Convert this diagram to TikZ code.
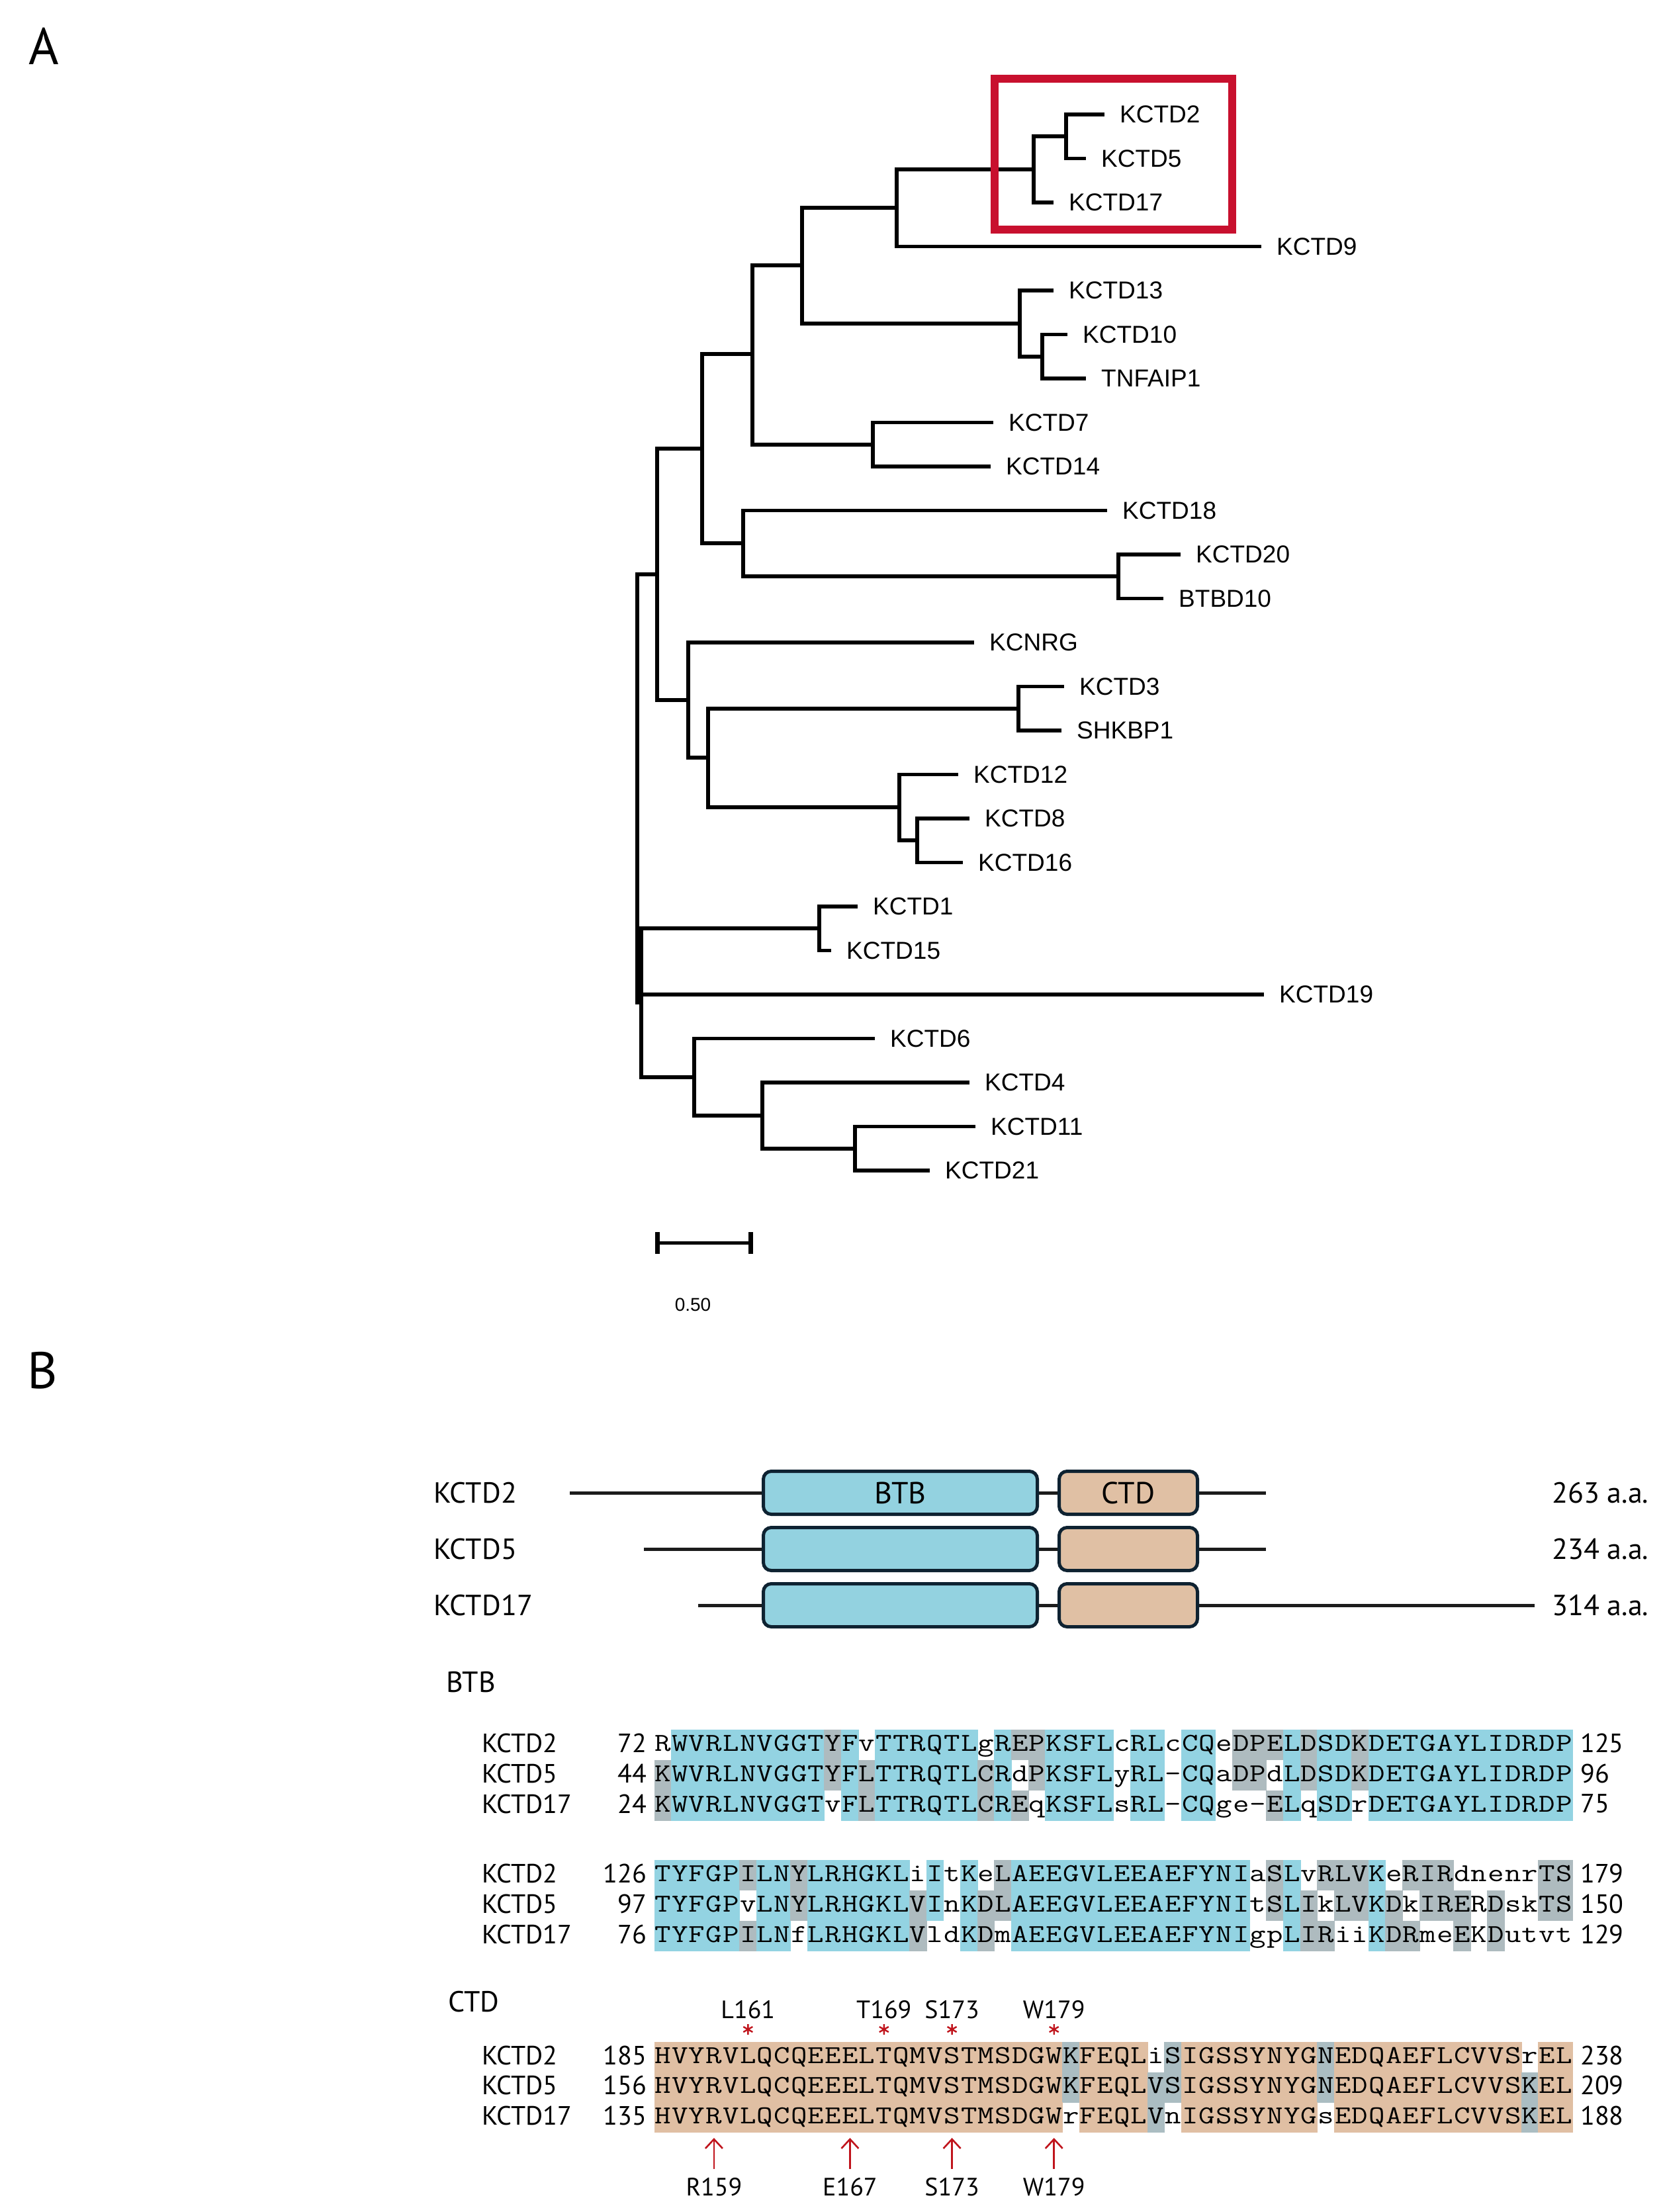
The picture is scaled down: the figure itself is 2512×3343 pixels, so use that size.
\documentclass[tikz,border=0pt]{standalone}
\usepackage{fontspec}
\usepackage{graphicx}
\usetikzlibrary{arrows.meta}
\newfontfamily\arialf{Liberation Sans}
\newfontfamily\ptsf{PT Sans}
\definecolor{shc}{HTML}{93D3E2}
\definecolor{shg}{HTML}{AEBBBF}
\definecolor{sht}{HTML}{E0BFA3}
\definecolor{shb}{HTML}{ABBDC2}
\definecolor{btbfill}{HTML}{93D2E0}
\definecolor{ctdfill}{HTML}{E0C0A4}
\definecolor{boxline}{HTML}{0E2231}
\definecolor{hlred}{HTML}{C8102E}
\definecolor{arred}{HTML}{C0141C}
\definecolor{protline}{HTML}{1C1C1C}
\newcount\seqi
\newcommand\shaderow[3]{\def\shx{#1}\def\shy{#2}\seqi=0 \shloop#3\relax}
\def\shloop#1{\ifx#1\relax\else\if#1w\else\fill[fill=sh#1] ({\shx+\the\seqi*25.69-0.5},{\shy-23}) rectangle ++(26.7,46);\fi\advance\seqi by 1 \expandafter\shloop\fi}
\newcommand\seqrow[3]{\def\sqx{#1}\def\sqy{#2}\seqi=0 \sqloop#3\relax}
\def\sqloop#1{\ifx#1\relax\else\node[aa] at ({\sqx+(\the\seqi+0.5)*25.69},{\sqy+9}) {\scalebox{1.22}[1]{#1}};\advance\seqi by 1 \expandafter\sqloop\fi}
\begin{document}
\begin{tikzpicture}[x=1pt,y=-1pt,
  tree/.style={line width=5.5pt, line cap=butt},
  leaf/.style={anchor=west, inner xsep=23pt, inner ysep=0pt, font=\arialf\fontsize{37}{40}\selectfont},
  aa/.style={anchor=base, inner sep=0pt, font=\fontsize{39}{39}\selectfont\ttfamily},
  lab/.style={inner sep=0pt, font=\ptsf\fontsize{40}{44}\selectfont},
  dlab/.style={inner sep=0pt, font=\ptsf\fontsize{44}{48}\selectfont},
  prot/.style={draw=protline, line width=5pt},
  btbbox/.style={draw=boxline, fill=btbfill, line width=5pt, rounded corners=12pt, minimum width=414pt, minimum height=65pt, inner sep=0pt, font=\ptsf\fontsize{46}{48}\selectfont},
  ctdbox/.style={draw=boxline, fill=ctdfill, line width=5pt, rounded corners=12pt, minimum width=209pt, minimum height=65pt, inner sep=0pt, font=\ptsf\fontsize{46}{48}\selectfont},
  astr/.style={draw=arred, line width=2.4pt},
  arr/.style={draw=arred, line width=2.6pt, -{Straight Barb[length=14pt,width=26pt,line width=2.6pt]}}
]
\useasboundingbox[fill=white] (0,0) rectangle (2512,3343);
% panel letters
\node[inner sep=0pt, font=\ptsf\fontsize{78}{80}\selectfont] (pA) at (66,70) {A};
\node[inner sep=0pt, font=\ptsf\fontsize{78}{80}\selectfont] (pB) at (64,2071) {B};
% ---------------- tree ----------------
\foreach \nm/\xe/\i in {KCTD2/1669/0, KCTD5/1641/1, KCTD17/1592/2, KCTD9/1906/3,
  KCTD13/1592/4, KCTD10/1613/5, TNFAIP1/1641/6, KCTD7/1501/7, KCTD14/1497/8,
  KCTD18/1673/9, KCTD20/1784/10, BTBD10/1758/11, KCNRG/1472/12, KCTD3/1608/13,
  SHKBP1/1604/14, KCTD12/1448/15, KCTD8/1465/16, KCTD16/1455/17, KCTD1/1296/18,
  KCTD15/1256/19, KCTD19/1910/20, KCTD6/1322/21, KCTD4/1465/22, KCTD11/1474/23,
  KCTD21/1405/24}
  \node[leaf] (\nm) at (\xe,{173+\i*66.5}) {\nm};
\coordinate (n25) at (1611,206);
\coordinate (nA) at (1562,256);
\coordinate (nB) at (1355,314);
\coordinate (n10T) at (1575,539);
\coordinate (n13) at (1541,489);
\coordinate (nC) at (1212,401);
\coordinate (n714) at (1319,672);
\coordinate (nD) at (1137,535);
\coordinate (n20B) at (1690,871);
\coordinate (n18) at (1123,821);
\coordinate (nE) at (1061,678);
\coordinate (n3S) at (1539,1071);
\coordinate (n816) at (1386,1270);
\coordinate (n12) at (1359,1220);
\coordinate (nH) at (1070,1145);
\coordinate (nK) at (1040,1058);
\coordinate (nF) at (993,868);
\coordinate (n115) at (1238,1403);
\coordinate (n1121) at (1292,1736);
\coordinate (n4) at (1152,1686);
\coordinate (n6) at (1049,1628);
\coordinate (nG) at (969,1515);
\coordinate (root) at (963,1191);
\draw[tree] (n25) |- (KCTD2.west) (n25) |- (KCTD5.west)
  (nA) |- (n25) (nA) |- (KCTD17.west)
  (nB) |- (nA) (nB) |- (KCTD9.west)
  (n10T) |- (KCTD10.west) (n10T) |- (TNFAIP1.west)
  (n13) |- (KCTD13.west) (n13) |- (n10T)
  (nC) |- (nB) (nC) |- (n13)
  (n714) |- (KCTD7.west) (n714) |- (KCTD14.west)
  (nD) |- (nC) (nD) |- (n714)
  (n20B) |- (KCTD20.west) (n20B) |- (BTBD10.west)
  (n18) |- (KCTD18.west) (n18) |- (n20B)
  (nE) |- (nD) (nE) |- (n18)
  (n3S) |- (KCTD3.west) (n3S) |- (SHKBP1.west)
  (n816) |- (KCTD8.west) (n816) |- (KCTD16.west)
  (n12) |- (KCTD12.west) (n12) |- (n816)
  (nH) |- (n3S) (nH) |- (n12)
  (nK) |- (KCNRG.west) (nK) |- (nH)
  (nF) |- (nE) (nF) |- (nK)
  (n115) |- (KCTD1.west) (n115) |- (KCTD15.west)
  (n1121) |- (KCTD11.west) (n1121) |- (KCTD21.west)
  (n4) |- (KCTD4.west) (n4) |- (n1121)
  (n6) |- (KCTD6.west) (n6) |- (n4)
  (nG) |- (n115) (nG) |- (KCTD19.west) (nG) |- (n6)
  (root) |- (nF) (root) |- (nG);
% highlight box
\node[draw=hlred, line width=12pt, minimum width=359pt, minimum height=228pt, inner sep=0pt] (hl) at (1682.5,233) {};
% scale bar
\coordinate (sb1) at (993,1878);
\coordinate (sb2) at (1134,1878);
\draw[line width=5pt] (sb1) -- (sb2);
\draw[line width=7pt] (sb1) ++(0,-16) -- ++(0,33) (sb2) ++(0,-16) -- ++(0,33);
\node[inner sep=0pt, font=\arialf\fontsize{28}{30}\selectfont] (sbl) at (1047,1972) {0.50};
% ---------------- domain diagrams ----------------
\coordinate (l2s) at (861,2256); \coordinate (l2e) at (1913,2256);
\coordinate (l5s) at (973,2341); \coordinate (l5e) at (1913,2341);
\coordinate (l17s) at (1055,2426); \coordinate (l17e) at (2319,2426);
\draw[prot] (l2s) -- (l2e);
\draw[prot] (l5s) -- (l5e);
\draw[prot] (l17s) -- (l17e);
\node[btbbox] (btb2) at (1360.5,2256) {BTB};
\node[ctdbox] (ctd2) at (1705,2256) {CTD};
\node[btbbox] (btb5) at (1360.5,2341) {};
\node[ctdbox] (ctd5) at (1705,2341) {};
\node[btbbox] (btb17) at (1360.5,2426) {};
\node[ctdbox] (ctd17) at (1705,2426) {};
\node[dlab, anchor=west] (d2) at (655,2256) {KCTD2};
\node[dlab, anchor=west] (d5) at (655,2341) {KCTD5};
\node[dlab, anchor=west] (d17) at (655,2426) {KCTD17};
\node[dlab, anchor=west] (len2) at (2345,2256) {263 a.a.};
\node[dlab, anchor=west] (len5) at (2345,2341) {234 a.a.};
\node[dlab, anchor=west] (len17) at (2345,2426) {314 a.a.};
% ---------------- alignments ----------------
\node[dlab, anchor=west] (secbtb) at (674,2542) {BTB};
\node[dlab, anchor=west] (secctd) at (677,3025) {CTD};
% block 1
\shaderow{989}{2637}{w ccccc cccc g c w ccc ccc w c gg cccc w cc w cc w ggg c g cc g cccccc cccccc}
\shaderow{989}{2683}{g ccccc cccc g c g ccc ccc g c w g cccc w cc w cc w gg w c g cc g cccccc cccccc}
\shaderow{989}{2729}{g ccccc cccc w c g ccc ccc g c g w cccc w cc w cc w w w g c w cc w cccccc cccccc}
\seqrow{989}{2637}{RWVRLNVGGT YFvTTRQTLg REPKSFLcRL cCQeDPELDS DKDETGAYLI DRDP}
\seqrow{989}{2683}{KWVRLNVGGT YFLTTRQTLC RdPKSFLyRL -CQaDPdLDS DKDETGAYLI DRDP}
\seqrow{989}{2729}{KWVRLNVGGT vFLTTRQTLC REqKSFLsRL -CQge-ELqS DrDETGAYLI DRDP}
% block 2
\shaderow{989}{2834}{ccccc g cc g ccc ccc w c w c w g ccccccc ccccccc w g c w ggg c w ggg wwwww gg}
\shaderow{989}{2880}{ccccc w cc g ccc ccc g c w c g g ccccccc ccccccc w g c g w gg c g w ggg w g ww gg}
\shaderow{989}{2926}{ccccc g cc w ccc ccc g w w c g w ccccccc ccccccc w w c gg ww c gg ww g w g wwww}
\seqrow{989}{2834}{TYFGPILNYL RHGKLiItKe LAEEGVLEEA EFYNIaSLvR LVKeRIRdne nrTS}
\seqrow{989}{2880}{TYFGPvLNYL RHGKLVInKD LAEEGVLEEA EFYNItSLIk LVKDkIRERD skTS}
\seqrow{989}{2926}{TYFGPILNfL RHGKLVldKD mAEEGVLEEA EFYNIgpLIR iiKDRmeEKD utvt}
% CTD block
\shaderow{989}{3109}{tttttt tttttt tttttt tttttt b tttt w b tttt tttt b tttttt ttttt w tt}
\shaderow{989}{3154.5}{tttttt tttttt tttttt tttttt b tttt b b tttt tttt b tttttt ttttt b tt}
\shaderow{989}{3200}{tttttt tttttt tttttt tttttt w tttt b w tttt tttt w tttttt ttttt b tt}
\seqrow{989}{3109}{HVYRVLQCQE EELTQMVSTM SDGWKFEQLi SIGSSYNYGN EDQAEFLCVV SrEL}
\seqrow{989}{3154.5}{HVYRVLQCQE EELTQMVSTM SDGWKFEQLV SIGSSYNYGN EDQAEFLCVV SKEL}
\seqrow{989}{3200}{HVYRVLQCQE EELTQMVSTM SDGWrFEQLV nIGSSYNYGs EDQAEFLCVV SKEL}
% row labels and numbers
\foreach \yy/\nm/\ln/\rn in {2634/KCTD2/72/125, 2680/KCTD5/44/96, 2726/KCTD17/24/75,
  2831/KCTD2/126/179, 2877/KCTD5/97/150, 2923/KCTD17/76/129,
  3106/KCTD2/185/238, 3151.5/KCTD5/156/209, 3197/KCTD17/135/188}{
  \node[lab, anchor=west] (nm\yy) at (728,\yy) {\nm};
  \node[lab, anchor=east] (ln\yy) at (977,\yy) {\ln};
  \node[lab, anchor=west] (rn\yy) at (2388,\yy) {\rn};
}
% markers above CTD
\foreach \k/\lb in {6/L161, 14/T169, 18/S173, 24/W179}{
  \coordinate (st\k) at ({989+(\k-0.5)*25.69},3067);
  \node[inner sep=0pt, font=\ptsf\fontsize{38}{40}\selectfont] (mk\k) at ({989+(\k-0.5)*25.69},3037) {\lb};
  \draw[astr] (st\k) ++(0,-8) -- ++(0,16) (st\k) ++(-7,-4) -- ++(14,8) (st\k) ++(-7,4) -- ++(14,-8);
}
% arrows below CTD
\foreach \k/\lb in {4/R159, 12/E167, 18/S173, 24/W179}{
  \coordinate (at\k) at ({989+(\k-0.5)*25.69},3231);
  \coordinate (ab\k) at ({989+(\k-0.5)*25.69},3278);
  \draw[arr] (ab\k) -- (at\k);
  \node[inner sep=0pt, font=\ptsf\fontsize{38}{40}\selectfont] (al\k) at ({989+(\k-0.5)*25.69},3305) {\lb};
}
\end{tikzpicture}
\end{document}
